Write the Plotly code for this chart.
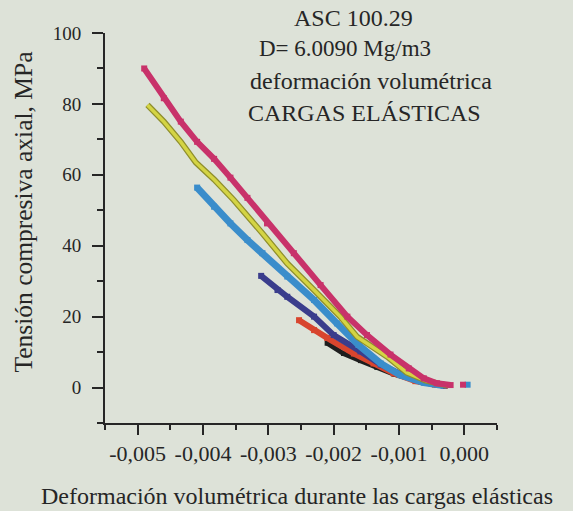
import plotly.graph_objects as go

# Volumetric strain (x) vs axial compressive stress in MPa (y), one list pair per loading cycle
mag_x = [-0.00490, -0.00460, -0.00434, -0.00409, -0.00383, -0.00358, -0.00332, -0.00302,
         -0.00261, -0.00220, -0.00179, -0.00149, -0.00113, -0.00085, -0.00062, -0.00042,
         -0.00021, None, -0.00002]
mag_y = [90.0, 81.6, 75.0, 69.3, 64.5, 59.2, 53.5, 46.3,
         37.9, 28.9, 20.0, 14.8, 9.3, 5.4, 2.6, 1.2,
         0.7, None, 0.8]

yel_x = [-0.00485, -0.00460, -0.00434, -0.00411, -0.00383, -0.00353, -0.00309, -0.00271,
         -0.00230, -0.00190, -0.00164, -0.00118, -0.00088, -0.00060, -0.00037, -0.00025]
yel_y = [79.7, 75.0, 69.3, 63.5, 58.7, 52.9, 43.5, 35.0,
         27.5, 20.0, 14.3, 8.7, 4.2, 2.0, 1.0, 0.6]

blu_x = [-0.00409, -0.00383, -0.00358, -0.00332, -0.00309, -0.00271, -0.00230, -0.00195,
         -0.00162, -0.00128, -0.00098, -0.00062, -0.00032, None, 0.00005]
blu_y = [56.4, 51.0, 46.3, 41.6, 37.9, 31.3, 24.7, 18.1,
         12.0, 6.8, 3.5, 1.4, 0.6, None, 0.8]

nav_x = [-0.00311, -0.00286, -0.00271, -0.00230, -0.00200, -0.00159, -0.00128, -0.00098,
         -0.00062, -0.00030]
nav_y = [31.5, 27.5, 25.6, 20.0, 14.8, 10.2, 6.5, 3.8, 1.5, 0.6]

red_x = [-0.00253, -0.00230, -0.00210, -0.00169, -0.00139, -0.00108, -0.00075, -0.00045, -0.00030]
red_y = [19.0, 16.2, 14.0, 9.6, 6.8, 4.0, 1.8, 0.8, 0.5]

blk_x = [-0.00210, -0.00185, -0.00159, -0.00134, -0.00108, -0.00067, -0.00042, -0.00030]
blk_y = [12.5, 9.6, 7.6, 5.7, 3.8, 1.6, 0.7, 0.5]

title_lines = ["ASC 100.29", "D= 6.0090 Mg/m3", "deformación volumétrica", "CARGAS ELÁSTICAS"]
x_ticks = [-0.005, -0.004, -0.003, -0.002, -0.001, 0.0]
x_labels = ["-0,005", "-0,004", "-0,003", "-0,002", "-0,001", "0,000"]
y_ticks = [0, 20, 40, 60, 80, 100]

BG = "#dde2d8"
INK = "#262626"
SERIF = "Liberation Serif, Times New Roman, serif"

fig = go.Figure()


def band(xs, ys, color, width, msize):
    fig.add_trace(go.Scatter(
        x=xs, y=ys, mode="lines+markers",
        line=dict(color=color, width=width),
        marker=dict(symbol="square", size=msize, color=color),
        showlegend=False, hoverinfo="skip"))


band(blk_x, blk_y, "#1e1e1e", 5, 5)
band(red_x, red_y, "#d8452e", 6, 6)
band(nav_x, nav_y, "#3a3d8c", 6, 6)
band(blu_x, blu_y, "#3a8dcb", 7, 6)

# yellow cycle: olive rim under a lighter yellow core
fig.add_trace(go.Scatter(x=yel_x, y=yel_y, mode="lines",
                         line=dict(color="#8f8f2c", width=6),
                         showlegend=False, hoverinfo="skip"))
fig.add_trace(go.Scatter(x=yel_x, y=yel_y, mode="lines",
                         line=dict(color="#d4d444", width=3.5),
                         showlegend=False, hoverinfo="skip"))

band(mag_x, mag_y, "#c8326a", 6, 6)

# plot area in pixels: x 104.5..497, y 33..423
L, R, T, B = 104.5, 497.0, 33.0, 423.0


def px(xp):
    return (xp - L) / (R - L)


def py(yp):
    return (B - yp) / (B - T)


title_pos = [(353, 18), (345, 49), (371, 81), (364, 113)]
title_sizes = [24, 23, 24, 24]
for txt, (cx, cy), fs in zip(title_lines, title_pos, title_sizes):
    fig.add_annotation(text=txt, x=px(cx), y=py(cy), xref="paper", yref="paper",
                       xanchor="center", yanchor="middle", showarrow=False,
                       font=dict(family=SERIF, size=fs, color=INK))

fig.add_annotation(text="Deformación volumétrica durante las cargas elásticas",
                   x=px(297), y=py(496), xref="paper", yref="paper",
                   xanchor="center", yanchor="middle", showarrow=False,
                   font=dict(family=SERIF, size=24, color=INK))
fig.add_annotation(text="Tensión compresiva axial, MPa",
                   x=px(22), y=py(212), xref="paper", yref="paper",
                   xanchor="center", yanchor="middle", showarrow=False, textangle=-90,
                   font=dict(family=SERIF, size=25.5, color=INK))

fig.update_layout(
    width=573, height=511, autosize=False,
    margin=dict(l=L, r=573 - R, t=T, b=511 - B, pad=0),
    paper_bgcolor=BG, plot_bgcolor=BG,
    xaxis=dict(range=[-0.0055, 0.0005], tickvals=x_ticks, ticktext=x_labels,
               showgrid=False, zeroline=False,
               showline=True, linecolor=INK, linewidth=2,
               ticks="outside", ticklen=10, tickwidth=2, tickcolor=INK,
               minor=dict(dtick=0.0005, tick0=-0.0055, ticks="outside", ticklen=5,
                          tickwidth=2, tickcolor=INK, showgrid=False),
               tickfont=dict(family=SERIF, size=22, color=INK)),
    yaxis=dict(range=[-10, 100], tickvals=y_ticks,
               showgrid=False, zeroline=False,
               showline=True, linecolor=INK, linewidth=2,
               ticks="outside", ticklen=11, tickwidth=2, tickcolor=INK,
               minor=dict(dtick=10, tick0=-10, ticks="outside", ticklen=6,
                          tickwidth=2, tickcolor=INK, showgrid=False),
               ticklabelstandoff=7,
               tickfont=dict(family=SERIF, size=19, color=INK)),
)

fig.write_html("out.html")
